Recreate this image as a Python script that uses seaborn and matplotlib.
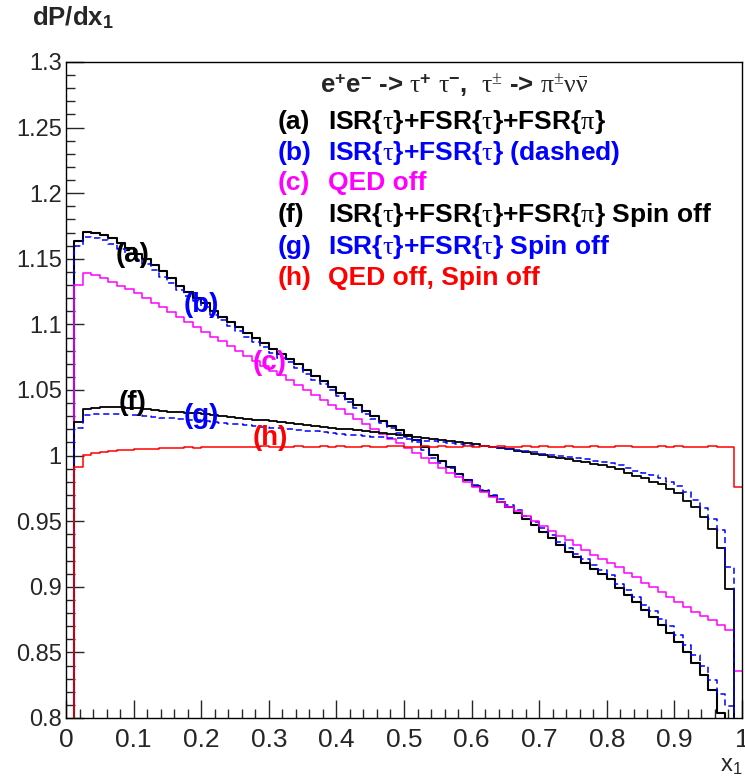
import numpy as np
import pandas as pd
import matplotlib
matplotlib.use("Agg")
import matplotlib.pyplot as plt
import seaborn as sns
from matplotlib.ticker import MultipleLocator, FuncFormatter

# === Histogram contents, 80 bins on x1 in [0, 1] ===
n_bins = 80
bin_edges = np.linspace(0.0, 1.0, n_bins + 1)
bin_centers = 0.5 * (bin_edges[:-1] + bin_edges[1:])

# (a) ISR{tau}+FSR{tau}+FSR{pi}
a_vals = [
    0.700, 1.1638, 1.1707, 1.1699, 1.1681, 1.1656, 1.1618, 1.1580, 1.1540, 1.1497,
    1.1455, 1.1405, 1.1355, 1.1295, 1.1250, 1.1205, 1.1160, 1.1105, 1.1060, 1.1020,
    1.0978, 1.0935, 1.0895, 1.0855, 1.0815, 1.0775, 1.0740, 1.0700, 1.0655, 1.0610,
    1.0565, 1.0520, 1.0478, 1.0432, 1.0385, 1.0340, 1.0300, 1.0265, 1.0228, 1.0192,
    1.0158, 1.0122, 1.0065, 1.0005, 0.9958, 0.9910, 0.9862, 0.9814, 0.9772, 0.9730,
    0.9690, 0.9649, 0.9605, 0.9560, 0.9515, 0.9470, 0.9420, 0.9370, 0.9318, 0.9268,
    0.9225, 0.9180, 0.9138, 0.9095, 0.9057, 0.8988, 0.8937, 0.8887, 0.8823, 0.8772,
    0.8709, 0.8650, 0.8582, 0.8505, 0.8422, 0.8328, 0.8213, 0.8036, 0.7800, 0.7000,
]

# (b) ISR{tau}+FSR{tau} (dashed)
b_vals = [
    0.700, 1.1598, 1.1667, 1.1659, 1.1641, 1.1616, 1.1578, 1.1540, 1.1500, 1.1457,
    1.1415, 1.1365, 1.1315, 1.1265, 1.1220, 1.1175, 1.1130, 1.1075, 1.1030, 1.0990,
    1.0948, 1.0905, 1.0865, 1.0825, 1.0785, 1.0745, 1.0710, 1.0670, 1.0625, 1.0580,
    1.0545, 1.0500, 1.0458, 1.0412, 1.0365, 1.0320, 1.0280, 1.0245, 1.0208, 1.0172,
    1.0138, 1.0102, 1.0045, 0.9985, 0.9940, 0.9908, 0.9862, 0.9816, 0.9775, 0.9735,
    0.9696, 0.9669, 0.9627, 0.9582, 0.9537, 0.9494, 0.9445, 0.9396, 0.9345, 0.9296,
    0.9253, 0.9210, 0.9168, 0.9125, 0.9090, 0.9022, 0.8972, 0.8925, 0.8862, 0.8812,
    0.8752, 0.8698, 0.8635, 0.8560, 0.8480, 0.8395, 0.8290, 0.8180, 0.8095, 0.7000,
]

# (c) QED off
c_vals = [
    0.700, 1.1300, 1.1390, 1.1375, 1.1350, 1.1325, 1.1295, 1.1268, 1.1240, 1.1203,
    1.1166, 1.1129, 1.1092, 1.1055, 1.1018, 1.0981, 1.0944, 1.0907, 1.0870, 1.0833,
    1.0796, 1.0759, 1.0722, 1.0685, 1.0648, 1.0611, 1.0574, 1.0537, 1.0500, 1.0463,
    1.0426, 1.0389, 1.0352, 1.0315, 1.0278, 1.0241, 1.0204, 1.0167, 1.0130, 1.0093,
    1.0056, 1.0019, 0.9982, 0.9945, 0.9908, 0.9871, 0.9834, 0.9797, 0.9760, 0.9723,
    0.9686, 0.9649, 0.9612, 0.9575, 0.9538, 0.9501, 0.9464, 0.9427, 0.9390, 0.9353,
    0.9316, 0.9279, 0.9242, 0.9210, 0.9179, 0.9149, 0.9108, 0.9077, 0.9031, 0.9001,
    0.8963, 0.8925, 0.8887, 0.8848, 0.8810, 0.8777, 0.8747, 0.8709, 0.8671, 0.8358,
]

# (f) ISR{tau}+FSR{tau}+FSR{pi} Spin off
f_vals = [
    0.700, 1.0258, 1.0355, 1.0365, 1.0370, 1.0368, 1.0368, 1.0365, 1.0360, 1.0355,
    1.0348, 1.0342, 1.0336, 1.0330, 1.0326, 1.0322, 1.0315, 1.0308, 1.0302, 1.0295,
    1.0288, 1.0282, 1.0275, 1.0268, 1.0262, 1.0255, 1.0248, 1.0241, 1.0234, 1.0227,
    1.0220, 1.0213, 1.0206, 1.0199, 1.0192, 1.0185, 1.0178, 1.0171, 1.0164, 1.0157,
    1.0150, 1.0144, 1.0136, 1.0127, 1.0119, 1.0110, 1.0102, 1.0093, 1.0085, 1.0076,
    1.0068, 1.0057, 1.0047, 1.0036, 1.0025, 1.0015, 1.0004, 0.9993, 0.9983, 0.9972,
    0.9961, 0.9950, 0.9939, 0.9928, 0.9911, 0.9895, 0.9870, 0.9845, 0.9827, 0.9801,
    0.9784, 0.9743, 0.9713, 0.9656, 0.9606, 0.9534, 0.9438, 0.9293, 0.8981, 0.7000,
]

# (g) ISR{tau}+FSR{tau} Spin off
g_vals = [
    0.700, 1.0208, 1.0310, 1.0318, 1.0320, 1.0318, 1.0316, 1.0312, 1.0307, 1.0302,
    1.0296, 1.0290, 1.0284, 1.0278, 1.0273, 1.0268, 1.0262, 1.0256, 1.0250, 1.0244,
    1.0238, 1.0232, 1.0226, 1.0220, 1.0214, 1.0208, 1.0202, 1.0196, 1.0190, 1.0184,
    1.0178, 1.0172, 1.0166, 1.0160, 1.0155, 1.0150, 1.0145, 1.0140, 1.0135, 1.0131,
    1.0127, 1.0122, 1.0115, 1.0108, 1.0101, 1.0094, 1.0088, 1.0082, 1.0076, 1.0070,
    1.0064, 1.0056, 1.0048, 1.0040, 1.0032, 1.0024, 1.0016, 1.0008, 0.9998, 0.9987,
    0.9979, 0.9971, 0.9962, 0.9954, 0.9941, 0.9928, 0.9903, 0.9885, 0.9865, 0.9852,
    0.9827, 0.9800, 0.9770, 0.9720, 0.9665, 0.9600, 0.9520, 0.9435, 0.9153, 0.7000,
]

# (h) QED off, Spin off
h_vals = [
    0.700, 0.9910, 1.0005, 1.0022, 1.0030, 1.0035, 1.0042, 1.0045, 1.0050, 1.0048,
    1.0053, 1.0056, 1.0055, 1.0059, 1.0062, 1.0060, 1.0064, 1.0066, 1.0063, 1.0067,
    1.0065, 1.0068, 1.0066, 1.0070, 1.0067, 1.0065, 1.0069, 1.0071, 1.0068, 1.0066,
    1.0070, 1.0068, 1.0072, 1.0069, 1.0067, 1.0071, 1.0068, 1.0066, 1.0070, 1.0073,
    1.0069, 1.0067, 1.0071, 1.0068, 1.0070, 1.0066, 1.0069, 1.0072, 1.0068, 1.0070,
    1.0067, 1.0071, 1.0069, 1.0066, 1.0070, 1.0068, 1.0072, 1.0069, 1.0067, 1.0070,
    1.0068, 1.0066, 1.0071, 1.0069, 1.0067, 1.0070, 1.0072, 1.0068, 1.0066, 1.0069,
    1.0071, 1.0068, 1.0070, 1.0067, 1.0069, 1.0066, 1.0070, 1.0068, 1.0066, 0.9763,
]

curve_tags = ["(a)", "(b)", "(c)", "(f)", "(g)", "(h)"]
legend_texts = [
    r"ISR{$\mathrm{\tau}$}+FSR{$\mathrm{\tau}$}+FSR{$\mathrm{\pi}$}",
    r"ISR{$\mathrm{\tau}$}+FSR{$\mathrm{\tau}$} (dashed)",
    r"QED off",
    r"ISR{$\mathrm{\tau}$}+FSR{$\mathrm{\tau}$}+FSR{$\mathrm{\pi}$} Spin off",
    r"ISR{$\mathrm{\tau}$}+FSR{$\mathrm{\tau}$} Spin off",
    r"QED off, Spin off",
]
header_text = (r"e$^{\mathbf{+}}$e$^{\mathbf{-}}$ -> $\mathrm{\tau}^{\mathbf{+}}$ "
               r"$\mathrm{\tau}^{\mathbf{-}}$,  $\mathrm{\tau^{\pm}}$ -> "
               r"$\mathrm{\pi^{\pm}\nu\bar{\nu}}$")

# === Style ===
sns.set_style("ticks")
plt.rcParams["font.family"] = ["Liberation Sans", "DejaVu Sans"]
plt.rcParams["mathtext.fontset"] = "custom"
plt.rcParams["mathtext.rm"] = "Liberation Serif"
plt.rcParams["mathtext.it"] = "Liberation Serif:italic"
plt.rcParams["mathtext.bf"] = "Liberation Sans:bold"
plt.rcParams["mathtext.sf"] = "Liberation Sans"

fig = plt.figure(figsize=(7.45, 7.81), dpi=100)
ax = fig.add_axes([66 / 745, 1 - 718 / 781, (742 - 66) / 745, (718 - 62) / 781])

series = [
    (a_vals, "#000000", "-", 1.5),
    (b_vals, "#0000ff", (0, (4, 2.5)), 1.1),
    (c_vals, "#ff00ff", "-", 1.1),
    (f_vals, "#000000", "-", 1.3),
    (g_vals, "#0000ff", (0, (4, 2.5)), 1.1),
    (h_vals, "#ff0000", "-", 1.1),
]
for vals, col, ls, lw in series:
    hist_df = pd.DataFrame({"x1": bin_centers, "dP": vals})
    sns.histplot(data=hist_df, x="x1", weights="dP", bins=list(bin_edges), element="step",
                 fill=False, color=col, linestyle=ls, linewidth=lw, ax=ax)

ax.set_xlim(0, 1)
ax.set_ylim(0.8, 1.3)
ax.set_xlabel("")
ax.set_ylabel("")

ax.xaxis.set_major_locator(MultipleLocator(0.1))
ax.xaxis.set_minor_locator(MultipleLocator(0.02))
ax.yaxis.set_major_locator(MultipleLocator(0.05))
ax.yaxis.set_minor_locator(MultipleLocator(0.01))
ax.xaxis.set_major_formatter(FuncFormatter(lambda v, p: "%g" % round(v, 3)))
ax.yaxis.set_major_formatter(FuncFormatter(lambda v, p: "%g" % round(v, 3)))
ax.tick_params(which="major", direction="in", length=13, width=1.0, top=False, right=False)
ax.tick_params(which="minor", direction="in", length=6.5, width=1.0, top=False, right=False)
ax.tick_params(axis="x", labelsize=19, pad=7)
ax.tick_params(axis="y", labelsize=17, pad=3)
for sp in ax.spines.values():
    sp.set_visible(True)
    sp.set_linewidth(1.0)
    sp.set_color("black")

# curve tags next to the histograms
tag_x = [0.099, 0.1995, 0.3007, 0.0991, 0.1995, 0.3015]
tag_y = [1.153, 1.1148, 1.0706, 1.0401, 1.0302, 1.0134]
tag_colors = ["#000000", "#0000ff", "#ff00ff", "#000000", "#0000ff", "#ff0000"]
for t, x, y, col in zip(curve_tags, tag_x, tag_y, tag_colors):
    ax.text(x, y, t, color=col, fontsize=20, fontweight="bold", ha="center", va="center")

# legend block
ax.text(0.3754, 1.2825, header_text, fontsize=18.5, fontweight="bold", ha="left", va="center")
row_y = [1.2545, 1.2306, 1.2078, 1.1834, 1.1592, 1.1354]
for t, txt, y, col in zip(curve_tags, legend_texts, row_y, tag_colors):
    ax.text(0.3133, y, t, color=col, fontsize=19, fontweight="bold", ha="left", va="center")
    ax.text(0.3872, y, txt, color=col, fontsize=19, fontweight="bold", ha="left", va="center")

fig.text(32 / 745, 1 - 4 / 781, r"dP/dx$_{\mathbf{1}}$", fontsize=18.5, fontweight="bold",
         ha="left", va="top")
fig.text(742 / 745, 1 - 772 / 781, r"x$_{\mathsf{1}}$", fontsize=17, ha="right", va="baseline")

fig.savefig("out.png", dpi=100)
